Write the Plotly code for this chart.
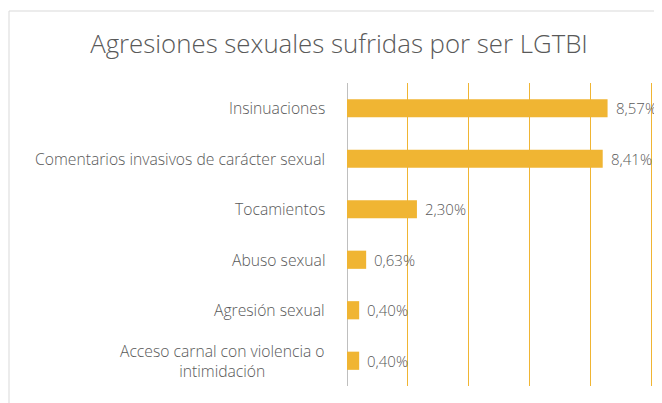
import plotly.graph_objects as go

categories = [
    "Insinuaciones",
    "Comentarios invasivos de carácter sexual",
    "Tocamientos",
    "Abuso sexual",
    "Agresión sexual",
    "Acceso carnal con violencia o<br>intimidación",
]
values = [8.57, 8.41, 2.30, 0.63, 0.40, 0.40]
value_labels = ["8,57%", "8,41%", "2,30%", "0,63%", "0,40%", "0,40%"]
title_text = "Agresiones sexuales sufridas por ser LGTBI"

GOLD = "#F0B533"
GRAY = "#595959"
FONT = "Open Sans"

# page has an 8px body margin; coordinates below are figure pixels
W, H = 662, 403
L, R, T, B = 339, 8, 75, 25
pw, ph = W - L - R, H - T - B

fig = go.Figure()
fig.add_trace(go.Bar(
    x=values, y=categories, orientation="h",
    marker=dict(color=GOLD, line=dict(width=0)),
    width=0.36, hoverinfo="x+y",
))

for c, v, t in zip(categories, values, value_labels):
    fig.add_annotation(
        x=0, xref="paper", y=c, yref="y", xanchor="right", xshift=-20,
        text=c, showarrow=False, align="center",
        font=dict(family=FONT, size=15.7, color=GRAY, weight=300),
    )
    fig.add_annotation(
        x=v, xref="x", y=c, yref="y", xanchor="left", xshift=6,
        text=t, showarrow=False,
        font=dict(family=FONT, size=15, color=GRAY, weight=300),
    )


def px_to_paper_x(p):
    return (p - L) / pw


def px_to_paper_y(p):
    return (H - B - p) / ph


fig.add_shape(type="rect", xref="paper", yref="paper",
              x0=px_to_paper_x(1), x1=px_to_paper_x(700),
              y0=px_to_paper_y(450), y1=px_to_paper_y(3),
              line=dict(color="#D9D9D9", width=1), fillcolor="rgba(0,0,0,0)",
              layer="below")

fig.update_layout(
    width=W, height=H,
    margin=dict(l=L, r=R, t=T, b=B, pad=0),
    paper_bgcolor="white", plot_bgcolor="white",
    showlegend=False,
    title=dict(text=title_text, x=331 / W, xanchor="center",
               y=1 - 36 / H, yanchor="middle",
               font=dict(family=FONT, size=25.8, color=GRAY, weight=300)),
    xaxis=dict(range=[0, 10.36], dtick=2, showticklabels=False,
               showgrid=True, gridcolor=GOLD, gridwidth=1.3,
               zeroline=True, zerolinecolor="#BFBFBF", zerolinewidth=1,
               showline=False, ticks=""),
    yaxis=dict(autorange="reversed", showticklabels=False, showgrid=False,
               ticks="", showline=False),
    bargap=0.64,
)

fig.write_html("out.html")
